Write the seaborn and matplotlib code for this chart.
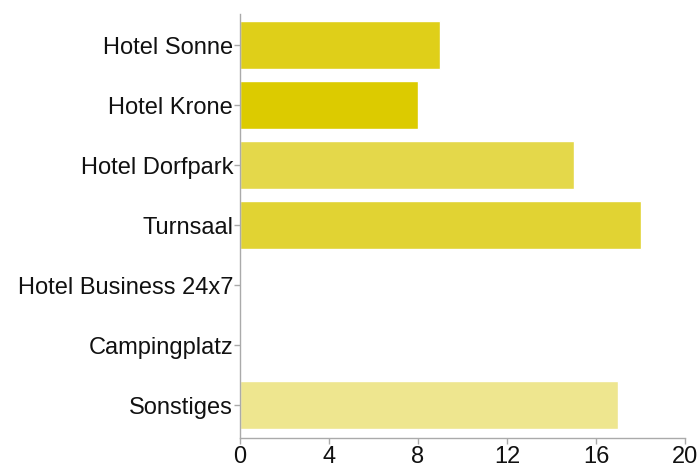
import pandas as pd
import matplotlib
matplotlib.use("Agg")
import matplotlib.pyplot as plt
import seaborn as sns

# data
categories = ["Hotel Sonne", "Hotel Krone", "Hotel Dorfpark", "Turnsaal",
              "Hotel Business 24x7", "Campingplatz", "Sonstiges"]
values = [9, 8, 15, 18, 0, 0, 17]
colors = ["#DFCF19", "#DCCB00", "#E4D84A", "#E1D333", "#E3D640", "#E6DA55", "#EEE68F"]

df = pd.DataFrame({"category": categories, "value": values})

sns.set_style("white")
plt.rcParams["font.family"] = ["Liberation Sans", "DejaVu Sans"]

fig = plt.figure(figsize=(6.99, 4.71), dpi=100)
ax = fig.add_axes([0.3433, 0.070, 0.6367, 0.900])

sns.barplot(data=df, x="value", y="category", hue="category",
            palette=colors, legend=False, width=0.8, saturation=1,
            orient="h", ax=ax)

ax.set_xlim(0, 20)
ax.set_ylim(6.55, -0.52)
ax.set_xticks([0, 4, 8, 12, 16, 20])
ax.set_xlabel("")
ax.set_ylabel("")

for s in ["top", "right"]:
    ax.spines[s].set_visible(False)
for s in ["left", "bottom"]:
    ax.spines[s].set_color("#aaaaaa")
    ax.spines[s].set_linewidth(1)

ax.tick_params(axis="both", which="both", length=4, width=1, color="#aaaaaa",
               labelsize=17, labelcolor="#111111", direction="out")
ax.tick_params(axis="x", pad=2)
ax.tick_params(axis="y", pad=1)
ax.xaxis.set_ticks_position("bottom")
ax.yaxis.set_ticks_position("left")

fig.savefig("out.png", dpi=100)
